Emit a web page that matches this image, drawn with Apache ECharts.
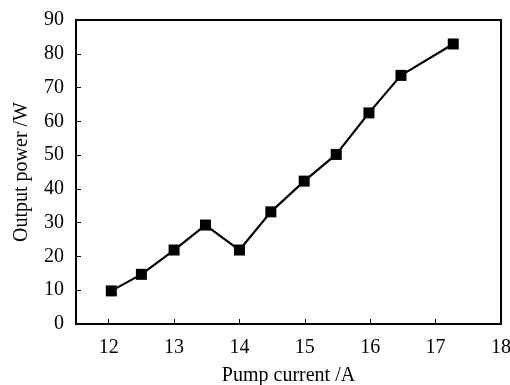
<!DOCTYPE html>
<html><head><meta charset="utf-8">
<script src="https://cdn.jsdelivr.net/npm/echarts@6/dist/echarts.min.js"></script>
<style>html,body{margin:0;padding:0;background:#fff}#c{width:510px;height:385px}</style>
</head><body><div id="c"></div>
<script>
const pumpCurrent = [12.04, 12.5, 13.0, 13.48, 14.0, 14.48, 14.99, 15.48, 15.98, 16.47, 17.27];
const outputPower = [9.8, 14.7, 21.9, 29.3, 21.9, 33.2, 42.3, 50.2, 62.5, 73.6, 82.9];
const xTicks = [12, 13, 14, 15, 16, 17, 18];
const yTicks = [0, 10, 20, 30, 40, 50, 60, 70, 80, 90];

const font = 'Liberation Serif';
const chart = echarts.init(document.getElementById('c'));
chart.setOption({
  animation: false,
  grid: {left: 76, right: 9, top: 20, bottom: 61, outerBoundsMode: 'none', containLabel: false, show: true, borderColor: '#000', borderWidth: 2, backgroundColor: 'transparent'},
  xAxis: {
    type: 'value', min: 11.5, max: 18,
    name: 'Pump current /A', nameLocation: 'middle', nameGap: 42,
    nameTextStyle: {fontFamily: font, fontSize: 20, color: '#000'},
    axisLine: {show: true, onZero: false, lineStyle: {color: '#000', width: 2}},
    axisTick: {show: true, inside: true, length: 5, customValues: xTicks, lineStyle: {color: '#000', width: 1}},
    axisLabel: {customValues: xTicks, fontFamily: font, fontSize: 20, color: '#000', margin: 14},
    splitLine: {show: false}
  },
  yAxis: {
    type: 'value', min: 0, max: 90, interval: 10,
    name: 'Output power /W', nameLocation: 'middle', nameGap: 44,
    nameTextStyle: {fontFamily: font, fontSize: 20, color: '#000'},
    axisLine: {show: true, lineStyle: {color: '#000', width: 2}},
    axisTick: {show: true, inside: true, length: 5, lineStyle: {color: '#000', width: 1}},
    axisLabel: {fontFamily: font, fontSize: 20, color: '#000', margin: 12},
    splitLine: {show: false}
  },
  series: [{
    type: 'line',
    data: pumpCurrent.map((x, i) => [x, outputPower[i]]),
    symbol: 'rect', symbolSize: 11,
    itemStyle: {color: '#000'},
    lineStyle: {color: '#000', width: 2.2}
  }]
});
</script></body></html>
